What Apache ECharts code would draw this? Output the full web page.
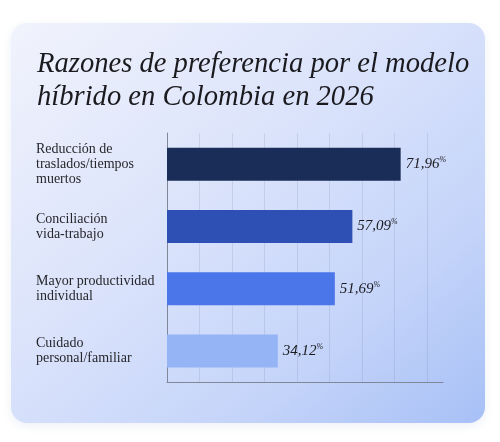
<!DOCTYPE html>
<html>
<head>
<meta charset="utf-8">
<script src="https://cdn.jsdelivr.net/npm/echarts@6/dist/echarts.min.js"></script>
<style>
  html, body { margin: 0; padding: 0; background: #ffffff; }
  .card {
    position: absolute; left: 11px; top: 23px; width: 474px; height: 400px;
    border-radius: 16px;
    background: linear-gradient(to bottom right, #f1f3fc 0%, #d9e2fb 45%, #c3d3f9 75%, #a7c0f6 100%);
    box-shadow: 0 3px 10px rgba(110, 130, 190, 0.12);
  }
  #chart { position: absolute; left: 0; top: 0; width: 500px; height: 442px; }
</style>
</head>
<body>
<div class="card"></div>
<div id="chart"></div>
<script>
// razones (de arriba hacia abajo)
const categories = [
  'Reducción de\ntraslados/tiempos\nmuertos',
  'Conciliación\nvida-trabajo',
  'Mayor productividad\nindividual',
  'Cuidado\npersonal/familiar'
]
const values = [71.96, 57.09, 51.69, 34.12]
const barColors = ['#1a2c58', '#2e4fb3', '#4b76ea', '#94b4f6']

const chart = echarts.init(document.getElementById('chart'))

const option = {
  backgroundColor: 'transparent',
  title: {
    text: 'Razones de preferencia por el modelo\nhíbrido en Colombia en 2026',
    left: 32,
    top: 43,
    textStyle: {
      fontFamily: 'Liberation Serif',
      fontStyle: 'italic',
      fontWeight: 'normal',
      fontSize: 28.6,
      lineHeight: 33,
      color: '#1b1b1f'
    }
  },
  grid: {
    left: 167,
    right: 57,
    top: 133,
    bottom: 60
  },
  xAxis: {
    type: 'value',
    min: 0,
    max: 85,
    interval: 10,
    axisLabel: { show: false },
    axisTick: { show: false },
    axisLine: { show: true, lineStyle: { color: '#7f8799', width: 1 } },
    splitLine: {
      show: true,
      showMinLine: false,
      showMaxLine: false,
      lineStyle: { color: 'rgba(110, 122, 155, 0.18)', width: 1 }
    }
  },
  yAxis: {
    type: 'category',
    inverse: true,
    data: categories,
    axisTick: { show: false },
    axisLine: { show: true, lineStyle: { color: '#7f8799', width: 1 } },
    axisLabel: {
      align: 'left',
      margin: 131,
      fontFamily: 'Liberation Serif',
      fontSize: 14,
      lineHeight: 15,
      color: '#26262b'
    }
  },
  series: [
    {
      type: 'bar',
      barWidth: 33,
      data: values.map((v, i) => ({ value: v, itemStyle: { color: barColors[i] } })),
      label: {
        show: true,
        position: 'right',
        distance: 5,
        formatter: p => '{v|' + p.value.toFixed(2).replace('.', ',') + '}{p|%}',
        rich: {
          v: {
            fontFamily: 'Liberation Serif',
            fontStyle: 'italic',
            fontSize: 15,
            lineHeight: 16,
            color: '#1b1b1f'
          },
          p: {
            fontFamily: 'Liberation Serif',
            fontStyle: 'italic',
            fontSize: 8,
            lineHeight: 9,
            verticalAlign: 'top',
            color: '#1b1b1f'
          }
        }
      }
    }
  ]
}

chart.setOption(option)
</script>
</body>
</html>
